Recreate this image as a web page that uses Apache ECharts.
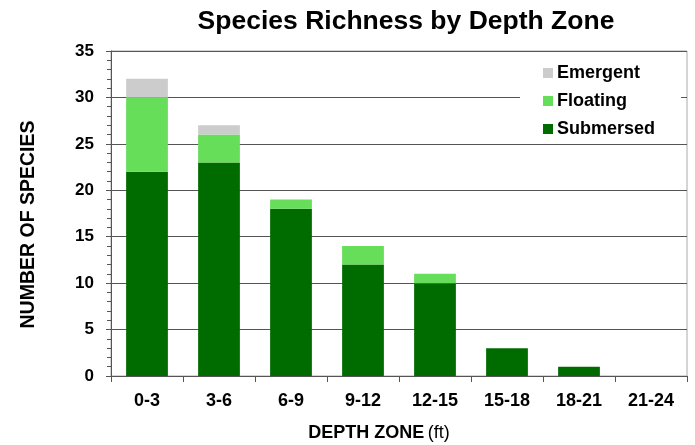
<!DOCTYPE html>
<html>
<head>
<meta charset="utf-8">
<script src="https://cdn.jsdelivr.net/npm/echarts@6/dist/echarts.min.js"></script>
<style>
  html, body { margin: 0; padding: 0; background: #fff; }
  #chart { width: 695px; height: 445px; }
</style>
</head>
<body>
<div id="chart"></div>
<script>
// Depth zones (ft) and species counts per life form
const depthZones = ['0-3', '3-6', '6-9', '9-12', '12-15', '15-18', '18-21', '21-24'];
const submersed  = [22, 23, 18, 12, 10, 3, 1, 0];
const floating   = [8, 3, 1, 2, 1, 0, 0, 0];
const emergent   = [2, 1, 0, 0, 0, 0, 0, 0];
const yTicks = { min: 0, max: 35, interval: 5 };

const FONT = '"Liberation Sans", Arial, Helvetica, sans-serif';
const chart = echarts.init(document.getElementById('chart'));

chart.setOption({
  animation: false,
  backgroundColor: '#fff',
  textStyle: { fontFamily: FONT },
  title: {
    text: 'Species Richness by Depth Zone',
    left: 401, textAlign: 'center', top: 3,
    textStyle: { fontFamily: FONT, fontSize: 26.5, fontWeight: 'bold', color: '#000' }
  },
  legend: {
    orient: 'vertical',
    left: 520, top: 52,
    data: ['Emergent', 'Floating', 'Submersed'],
    icon: 'rect',
    itemWidth: 10, itemHeight: 10, itemGap: 10,
    backgroundColor: '#fff',
    padding: [12, 26, 2, 23],
    textStyle: { fontFamily: FONT, fontSize: 18, fontWeight: 'bold', color: '#000', padding: [0, 0, 0, -1] }
  },
  grid: {
    left: 111, right: 8, top: 51, bottom: 69,
    outerBoundsMode: 'none',
    show: true, borderColor: '#aaa', borderWidth: 1
  },
  xAxis: {
    type: 'category',
    data: depthZones,
    name: '{b|DEPTH ZONE} {n|(ft)}',
    nameLocation: 'middle',
    nameGap: 48,
    nameTextStyle: {
      padding: [0, 40, 0, 0],
      rich: {
        b: { fontFamily: FONT, fontSize: 18, fontWeight: 'bold', color: '#000' },
        n: { fontFamily: FONT, fontSize: 18, color: '#000' }
      }
    },
    axisLine: { lineStyle: { color: '#555', width: 1 } },
    axisTick: { show: true, length: 6, lineStyle: { color: '#555' } },
    axisLabel: { fontFamily: FONT, fontSize: 18, fontWeight: 'bold', color: '#000', margin: 16 }
  },
  yAxis: {
    type: 'value',
    min: yTicks.min, max: yTicks.max, interval: yTicks.interval,
    name: 'NUMBER OF SPECIES',
    nameLocation: 'middle',
    nameGap: 72,
    nameTextStyle: { fontFamily: FONT, fontSize: 19.5, fontWeight: 'bold', color: '#000', padding: [0, 22, 0, 0] },
    axisLine: { show: true, lineStyle: { color: '#555', width: 1 } },
    axisTick: { show: true, length: 5, lineStyle: { color: '#555' } },
    minorTick: { show: true, splitNumber: 5, length: 4, lineStyle: { color: '#555' } },
    splitLine: { show: true, lineStyle: { color: '#555', width: 1 } },
    axisLabel: { fontFamily: FONT, fontSize: 17, fontWeight: 'bold', color: '#000', margin: 17 }
  },
  series: [
    { name: 'Submersed', type: 'bar', stack: 'total', data: submersed, barWidth: '58%',
      itemStyle: { color: '#006c00' } },
    { name: 'Floating', type: 'bar', stack: 'total', data: floating,
      itemStyle: { color: '#66de5a' } },
    { name: 'Emergent', type: 'bar', stack: 'total', data: emergent,
      itemStyle: { color: '#cccccc' } }
  ]
});
</script>
</body>
</html>
